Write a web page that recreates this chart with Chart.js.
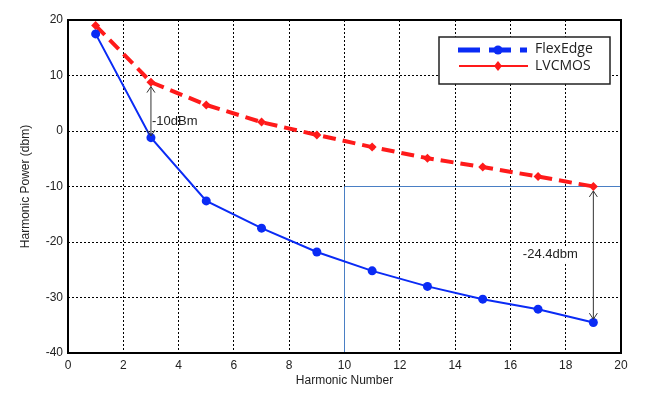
<!DOCTYPE html>
<html>
<head>
<meta charset="utf-8">
<script src="https://cdn.jsdelivr.net/npm/chart.js@4.4.0/dist/chart.umd.min.js"></script>
<style>
  html, body { margin: 0; padding: 0; background: #fff; }
  #wrap { width: 654px; height: 399px; position: relative; }
</style>
</head>
<body>
<div id="wrap"><canvas id="harmonics"></canvas></div>
<script>
// harmonic numbers (odd harmonics only)
const harmonics = [1, 3, 5, 7, 9, 11, 13, 15, 17, 19];
const flexEdge = [17.5, -1.2, -12.6, -17.5, -21.8, -25.2, -28, -30.3, -32.1, -34.5];
const lvcmos = [19, 8.8, 4.7, 1.6, -0.7, -2.9, -4.9, -6.5, -8.2, -10];

// highlight box around the 10th-20th harmonic region
const boxX = [10, 10, 20];
const boxY = [-40, -10, -10];

const xTicks = [0, 2, 4, 6, 8, 10, 12, 14, 16, 18, 20];
const yTicks = [-40, -30, -20, -10, 0, 10, 20];

const tickFont = { family: 'Liberation Sans, Arial, sans-serif', size: 12 };

function toPoints(xs, ys) {
    return xs.map((x, i) => ({ x: x, y: ys[i] }));
}

function arrowHead(ctx, x, y, dir) {
    ctx.beginPath();
    ctx.moveTo(x - 4, y + dir * 6);
    ctx.lineTo(x, y);
    ctx.lineTo(x + 4, y + dir * 6);
    ctx.stroke();
}

function drawArrow(chart, xv, y1, y2) {
    const ctx = chart.ctx;
    const xs = chart.scales.x, ys = chart.scales.y;
    const px = xs.getPixelForValue(xv);
    const top = ys.getPixelForValue(y1);
    const bot = ys.getPixelForValue(y2);
    ctx.save();
    ctx.strokeStyle = '#333';
    ctx.lineWidth = 1;
    ctx.beginPath();
    ctx.moveTo(px, top);
    ctx.lineTo(px, bot);
    ctx.stroke();
    arrowHead(ctx, px, top, 1);
    arrowHead(ctx, px, bot, -1);
    ctx.restore();
}

const notes = {
    id: 'notes',
    afterDatasetsDraw(chart) {
        const ctx = chart.ctx;
        const a = chart.chartArea;
        const xs = chart.scales.x, ys = chart.scales.y;

        // frame
        ctx.save();
        ctx.strokeStyle = '#000';
        ctx.lineWidth = 2;
        ctx.strokeRect(a.left, a.top, a.right - a.left, a.bottom - a.top);
        ctx.restore();

        // gap arrows
        drawArrow(chart, 3, lvcmos[1] - 0.8, flexEdge[1] + 0.3);
        drawArrow(chart, 19, lvcmos[9] - 0.8, flexEdge[9] + 0.6);

        ctx.save();
        ctx.font = '13px Liberation Sans, Arial, sans-serif';
        ctx.textBaseline = 'middle';
        ctx.fillStyle = '#222';
        ctx.textAlign = 'left';
        ctx.fillText('-10dBm', xs.getPixelForValue(3) + 1, ys.getPixelForValue(1.8));

        const lbl = '-24.4dbm';
        const lx = xs.getPixelForValue(16.45);
        const ly = ys.getPixelForValue(-22.3);
        const w = ctx.measureText(lbl).width;
        ctx.fillStyle = '#fff';
        ctx.fillRect(lx - 1, ly - 8, w + 3, 16);
        ctx.fillStyle = '#222';
        ctx.fillText(lbl, lx, ly);
        ctx.restore();

        // legend
        const lg = { x: 439, y: 37, w: 171, h: 47 };
        ctx.save();
        ctx.fillStyle = '#fff';
        ctx.fillRect(lg.x, lg.y, lg.w, lg.h);
        ctx.strokeStyle = '#222';
        ctx.lineWidth = 1.5;
        ctx.strokeRect(lg.x, lg.y, lg.w, lg.h);

        // FlexEdge entry: thick dashed line with circle
        ctx.strokeStyle = '#0a2bf5';
        ctx.lineWidth = 5;
        ctx.setLineDash([22, 9]);
        ctx.beginPath();
        ctx.moveTo(458, 50);
        ctx.lineTo(527, 50);
        ctx.stroke();
        ctx.setLineDash([]);
        ctx.fillStyle = '#0a2bf5';
        ctx.beginPath();
        ctx.arc(498, 50, 4.5, 0, Math.PI * 2);
        ctx.fill();

        // LVCMOS entry: thin line with diamond
        ctx.strokeStyle = '#ff1a1a';
        ctx.lineWidth = 2;
        ctx.beginPath();
        ctx.moveTo(459, 66);
        ctx.lineTo(528, 66);
        ctx.stroke();
        ctx.fillStyle = '#ff1a1a';
        ctx.beginPath();
        ctx.moveTo(498, 61);
        ctx.lineTo(502, 66);
        ctx.lineTo(498, 71);
        ctx.lineTo(494, 66);
        ctx.closePath();
        ctx.fill();

        ctx.fillStyle = '#222';
        ctx.font = '14px Open Sans, Liberation Sans, sans-serif';
        ctx.textAlign = 'left';
        ctx.textBaseline = 'middle';
        ctx.fillText('FlexEdge', 535, 49);
        ctx.fillText('LVCMOS', 535, 66);
        ctx.restore();
    }
};

new Chart(document.getElementById('harmonics'), {
    type: 'scatter',
    data: {
        datasets: [
            {
                label: 'box',
                data: toPoints(boxX, boxY),
                showLine: true,
                borderColor: '#4a7fc4',
                borderWidth: 1,
                pointRadius: 0,
                order: 3
            },
            {
                label: 'LVCMOS',
                data: toPoints(harmonics, lvcmos),
                showLine: true,
                borderColor: '#ff1a1a',
                backgroundColor: '#ff1a1a',
                borderWidth: 4,
                borderDash: [13, 7],
                pointStyle: 'rectRot',
                pointRadius: 4.5,
                pointBorderWidth: 0,
                order: 2
            },
            {
                label: 'FlexEdge',
                data: toPoints(harmonics, flexEdge),
                showLine: true,
                borderColor: '#0a2bf5',
                backgroundColor: '#0a2bf5',
                borderWidth: 2,
                pointStyle: 'circle',
                pointRadius: 4.5,
                pointBorderWidth: 0,
                order: 1
            }
        ]
    },
    options: {
        responsive: true,
        maintainAspectRatio: false,
        animation: false,
        layout: { padding: { left: 0, top: 20, right: 33, bottom: 0 } },
        plugins: {
            legend: { display: false },
            tooltip: { enabled: false }
        },
        scales: {
            x: {
                type: 'linear',
                min: 0,
                max: 20,
                afterBuildTicks: (s) => { s.ticks = xTicks.map(v => ({ value: v })); },
                afterFit: (s) => { s.height = 46; },
                ticks: { color: '#222', font: tickFont, padding: 5, maxRotation: 0 },
                grid: { color: '#000', lineWidth: 1, drawTicks: false },
                border: { display: false, dash: [2, 2] },
                title: {
                    display: true,
                    text: 'Harmonic Number',
                    color: '#222',
                    font: tickFont,
                    padding: { top: 2, bottom: 11 }
                }
            },
            y: {
                type: 'linear',
                min: -40,
                max: 20,
                afterBuildTicks: (s) => { s.ticks = yTicks.map(v => ({ value: v })); },
                afterFit: (s) => { s.width = 68; },
                ticks: { color: '#222', font: tickFont, padding: 5 },
                grid: { color: '#000', lineWidth: 1, drawTicks: false },
                border: { display: false, dash: [2, 2] },
                title: {
                    display: true,
                    text: 'Harmonic Power (dbm)',
                    color: '#222',
                    font: tickFont,
                    padding: { top: 18, bottom: 0 }
                }
            }
        }
    },
    plugins: [notes]
});
</script>
</body>
</html>
